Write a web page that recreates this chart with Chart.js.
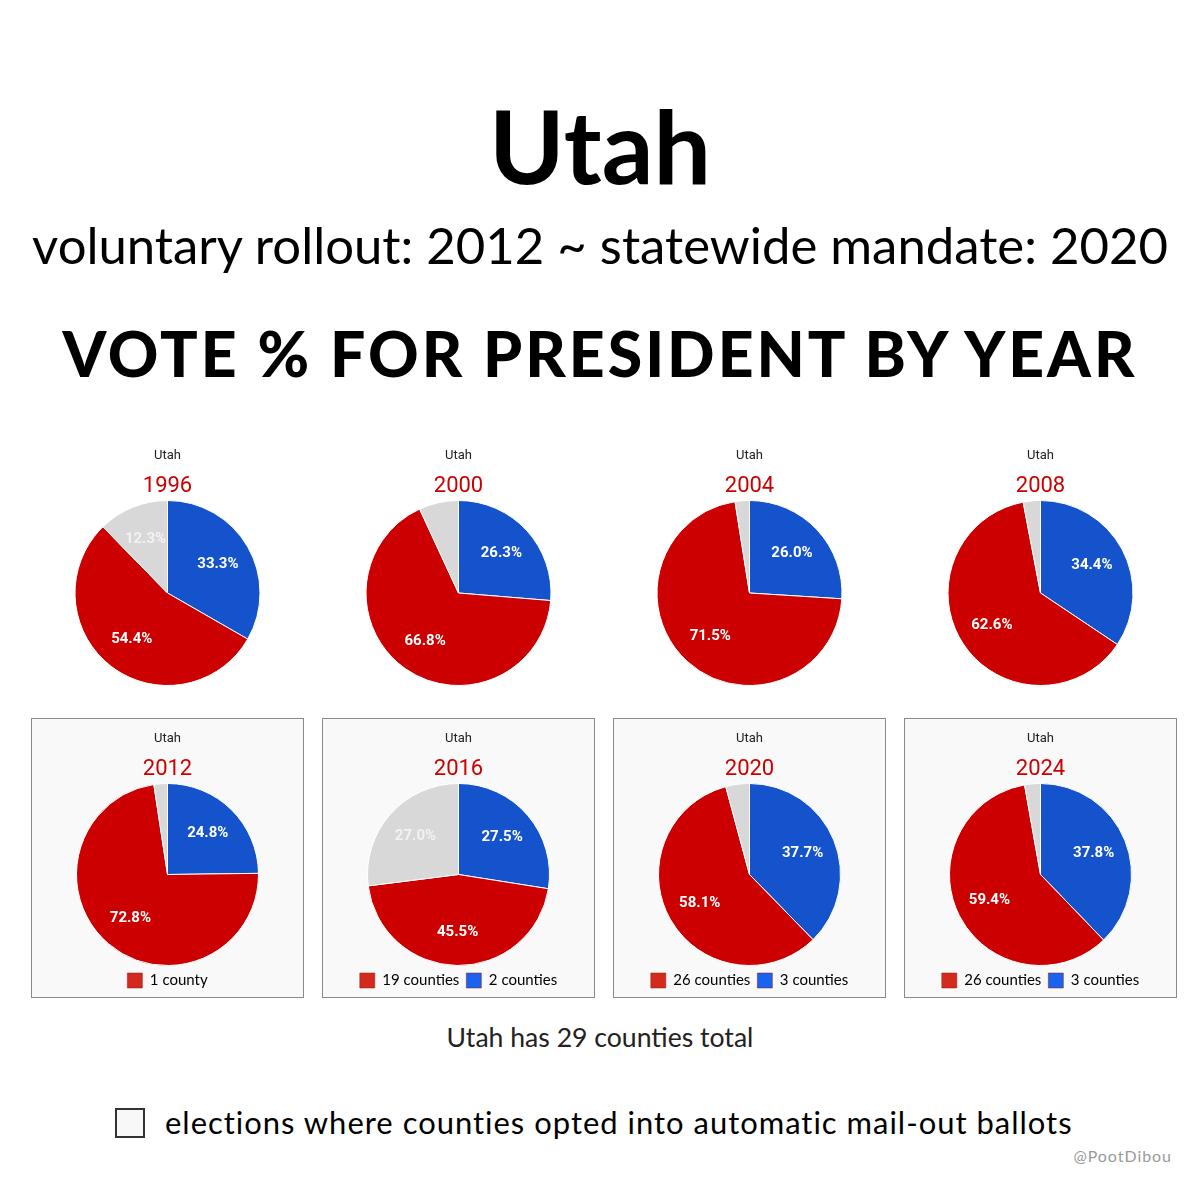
<!DOCTYPE html>
<html>
<head>
<meta charset="utf-8">
<script src="https://cdn.jsdelivr.net/npm/chart.js@4.4.1/dist/chart.umd.min.js"></script>
<style>
    body { margin: 0; background: #fff; width: 1200px; height: 1200px; position: relative; overflow: hidden; font-family: Lato, sans-serif; }
    .t { position: absolute; left: 0; width: 1200px; text-align: center; color: #000; white-space: nowrap; line-height: 1; }
    .fit { display: inline-block; }
    .frame { position: absolute; width: 273px; height: 280px; box-sizing: border-box; background: #f9f9f9; border: 1px solid #8a8a8a; }
    canvas { position: absolute; }
</style>
</head>
<body>
<div class="t" style="top:90px;font-size:106px;font-weight:700"><span class="fit" data-w="222">Utah</span></div>
<div class="t" style="top:220px;font-size:45px"><span class="fit" data-w="1136">voluntary rollout: 2012 ~ statewide mandate: 2020</span></div>
<div class="t" style="top:322px;font-size:62px;font-weight:900;letter-spacing:3px"><span class="fit" data-w="1076">VOTE % FOR PRESIDENT BY YEAR</span></div>

<div id="charts"></div>

<div class="t" style="top:1024px;font-size:24px;color:#222"><span class="fit" data-w="307">Utah has 29 counties total</span></div>
<div style="position:absolute;left:115px;top:1108px;width:30px;height:30px;box-sizing:border-box;border:2px solid #333;background:#f8f8f8"></div>
<div style="position:absolute;left:165px;top:1107px;font-size:30px;line-height:1;white-space:nowrap;letter-spacing:1px"><span class="fit" data-w="910">elections where counties opted into automatic mail-out ballots</span></div>
<div style="position:absolute;right:28px;top:1148px;font-size:14px;color:#9a9a9a;line-height:1;letter-spacing:1px"><span class="fit" data-w="100">@PootDibou</span></div>

<script>
const years = ['1996', '2000', '2004', '2008', '2012', '2016', '2020', '2024'];
const demPct = [33.3, 26.3, 26.0, 34.4, 24.8, 27.5, 37.7, 37.8];
const repPct = [54.4, 66.8, 71.5, 62.6, 72.8, 45.5, 58.1, 59.4];
const otherPct = [12.3, 6.9, 2.5, 3.0, 2.4, 27.0, 4.2, 2.8];
// counties that opted into mail-out ballots, by winner
const repCounties = [0, 0, 0, 0, 1, 19, 26, 26];
const demCounties = [0, 0, 0, 0, 0, 2, 3, 3];
const mailOut = [false, false, false, false, true, true, true, true];

const boxLeft = [31, 322, 613, 904];
const boxTop = [435, 718];

// stretch header texts to the widths in the picture
document.querySelectorAll('.fit').forEach(el => {
    const fs = parseFloat(getComputedStyle(el).fontSize);
    el.style.fontSize = (fs * el.dataset.w / el.getBoundingClientRect().width) + 'px';
});

const sliceLabels = {
    id: 'sliceLabels',
    afterDatasetsDraw(chart) {
        const ctx = chart.ctx;
        const values = chart.data.datasets[0].data;
        chart.getDatasetMeta(0).data.forEach((arc, i) => {
            if (values[i] < 10) return;
            const a = (arc.startAngle + arc.endAngle) / 2;
            const r = arc.outerRadius * 0.63;
            ctx.save();
            ctx.font = 'bold 15px Roboto';
            ctx.fillStyle = i === 2 ? '#f2f2f2' : '#ffffff';
            ctx.textAlign = 'center';
            ctx.textBaseline = 'middle';
            ctx.fillText(values[i].toFixed(1) + '%', arc.x + Math.cos(a) * r, arc.y + Math.sin(a) * r);
            ctx.restore();
        });
    }
};

const holder = document.getElementById('charts');

years.forEach((year, i) => {
    const left = boxLeft[i % 4];
    const top = boxTop[Math.floor(i / 4)];

    if (mailOut[i]) {
        const frame = document.createElement('div');
        frame.className = 'frame';
        frame.style.left = left + 'px';
        frame.style.top = top + 'px';
        holder.appendChild(frame);
    }

    const canvas = document.createElement('canvas');
    canvas.width = 273;
    canvas.height = 280;
    canvas.style.left = left + 'px';
    canvas.style.top = top + 'px';
    holder.appendChild(canvas);

    const legendItems = [];
    if (repCounties[i] > 0) legendItems.push({ n: repCounties[i], color: '#d42a1e' });
    if (demCounties[i] > 0) legendItems.push({ n: demCounties[i], color: '#1b63ee' });

    new Chart(canvas.getContext('2d'), {
        type: 'pie',
        data: {
            labels: ['Democratic', 'Republican', 'Other'],
            datasets: [{
                data: [demPct[i], repPct[i], otherPct[i]],
                backgroundColor: ['#1553cc', '#cc0000', '#d8d8d8'],
                borderColor: '#ffffff',
                borderWidth: 1
            }]
        },
        options: {
            responsive: false,
            animation: false,
            layout: { padding: { bottom: mailOut[i] ? 0 : 29 } },
            plugins: {
                title: {
                    display: true,
                    text: 'Utah',
                    color: '#222',
                    font: { family: 'Roboto', size: 13, weight: 'normal' },
                    padding: { top: 13, bottom: 10 }
                },
                subtitle: {
                    display: true,
                    text: year,
                    color: '#cc0000',
                    font: { family: 'Roboto', size: 22, weight: 'normal' },
                    padding: { top: 0, bottom: 0 }
                },
                legend: {
                    display: mailOut[i],
                    position: 'bottom',
                    labels: {
                        boxWidth: 15,
                        boxHeight: 15,
                        padding: 7,
                        color: '#222',
                        font: { family: 'Lato', size: 15 },
                        generateLabels: () => legendItems.map(it => ({
                            text: it.n + (it.n === 1 ? ' county' : ' counties'),
                            fillStyle: it.color,
                            strokeStyle: '#8a1a12',
                            lineWidth: 0.5,
                            hidden: false
                        }))
                    }
                },
                tooltip: { enabled: false }
            }
        },
        plugins: [sliceLabels]
    });
});
</script>
</body>
</html>
